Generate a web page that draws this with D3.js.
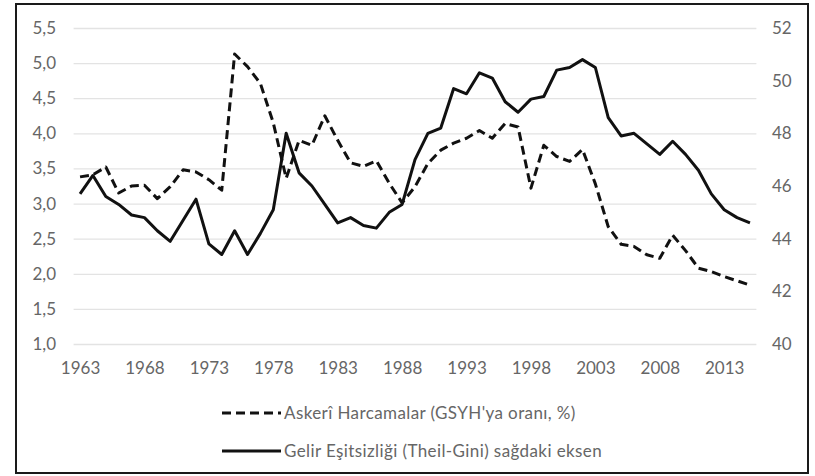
<!DOCTYPE html>
<html><head><meta charset="utf-8">
<script src="https://cdn.jsdelivr.net/npm/d3@7/dist/d3.min.js"></script>
<style>html,body{margin:0;padding:0;background:#fff;}svg{display:block;}</style>
</head><body>
<script>
const years = d3.range(1963, 2016);
const military = [3.38,3.41,3.52,3.15,3.25,3.26,3.07,3.24,3.48,3.45,3.34,3.19,5.13,4.95,4.71,4.15,3.36,3.90,3.83,4.25,3.90,3.58,3.53,3.61,3.29,3.01,3.24,3.57,3.76,3.86,3.93,4.04,3.93,4.14,4.09,3.22,3.83,3.67,3.60,3.77,3.28,2.67,2.42,2.39,2.27,2.22,2.55,2.33,2.08,2.03,1.96,1.90,1.84];
const inequality = [45.7,46.4,45.6,45.3,44.9,44.8,44.3,43.9,44.7,45.5,43.8,43.4,44.3,43.4,44.2,45.1,48.0,46.5,46.0,45.3,44.6,44.8,44.5,44.4,45.0,45.3,47.0,48.0,48.2,49.7,49.5,50.3,50.1,49.2,48.8,49.3,49.4,50.4,50.5,50.8,50.5,48.6,47.9,48.0,47.6,47.2,47.7,47.2,46.6,45.7,45.1,44.8,44.6];
const leftTicks = [1.0,1.5,2.0,2.5,3.0,3.5,4.0,4.5,5.0,5.5];
const rightTicks = [40,42,44,46,48,50,52];
const yearTicks = [1963,1968,1973,1978,1983,1988,1993,1998,2003,2008,2013];
const legendLabels = ["Askerî Harcamalar (GSYH'ya oranı, %)", "Gelir Eşitsizliği (Theil-Gini) sağdaki eksen"];

const W = 815, H = 476;
const svg = d3.select("body").append("svg").attr("width", W).attr("height", H);
const font = "Lato, 'Open Sans', sans-serif";
const grey = "#666666";

svg.append("rect").attr("x", 16).attr("y", 4).attr("width", 792).attr("height", 469)
  .attr("fill", "#fff").attr("stroke", "#1a1a1a").attr("stroke-width", 2);

const x = d3.scalePoint().domain(years).range([73.6, 756.4]).padding(0.5);
const yL = d3.scaleLinear().domain([1.0, 5.5]).range([344, 28]);
const yR = d3.scaleLinear().domain([40, 52]).range([344, 28]);

// gridlines
svg.append("g").attr("transform", "translate(73.6,0)")
  .call(d3.axisLeft(yL).tickValues(leftTicks).tickSize(-(756.4 - 73.6)).tickFormat(""))
  .call(g => g.select(".domain").remove())
  .call(g => g.selectAll("line").attr("stroke", "#e3e3e3").attr("stroke-width", 1.3));

// left axis labels
svg.append("g").attr("transform", "translate(62,0)")
  .call(d3.axisLeft(yL).tickValues(leftTicks).tickSize(0).tickPadding(6)
    .tickFormat(d => d3.format(".1f")(d).replace(".", ",")))
  .call(g => g.select(".domain").remove())
  .call(g => g.selectAll("text").attr("fill", grey).style("font-family", font).style("font-size", "17px"));

// right axis labels
svg.append("g").attr("transform", "translate(766,0)")
  .call(d3.axisRight(yR).tickValues(rightTicks).tickSize(0).tickPadding(6))
  .call(g => g.select(".domain").remove())
  .call(g => g.selectAll("text").attr("fill", grey).style("font-family", font).style("font-size", "17px"));

// x axis labels
svg.append("g").attr("transform", "translate(0,349)")
  .call(d3.axisBottom(x).tickValues(yearTicks).tickSize(0).tickPadding(13))
  .call(g => g.select(".domain").remove())
  .call(g => g.selectAll("text").attr("fill", grey).style("font-family", font).style("font-size", "17px"));

const lineL = d3.line().x((d, i) => x(years[i])).y(d => yL(d));
const lineR = d3.line().x((d, i) => x(years[i])).y(d => yR(d));

svg.append("path").datum(military).attr("d", lineL).attr("fill", "none")
  .attr("stroke", "#111").attr("stroke-width", 3).attr("stroke-dasharray", "9,5").attr("stroke-linejoin", "round");
svg.append("path").datum(inequality).attr("d", lineR).attr("fill", "none")
  .attr("stroke", "#111").attr("stroke-width", 3).attr("stroke-linejoin", "round");

// legend
const lg = svg.append("g");
const legY = [413, 451];
legendLabels.forEach((t, i) => {
  lg.append("line").attr("x1", 222).attr("x2", 281).attr("y1", legY[i]).attr("y2", legY[i])
    .attr("stroke", "#111").attr("stroke-width", 3)
    .attr("stroke-dasharray", i === 0 ? "9,5" : null);
  lg.append("text").attr("x", 284).attr("y", legY[i]).attr("dy", "0.35em")
    .attr("fill", grey).style("font-family", font).style("font-size", "17px")
    .style("letter-spacing", "0.4px").text(t);
});
</script>
</body></html>
